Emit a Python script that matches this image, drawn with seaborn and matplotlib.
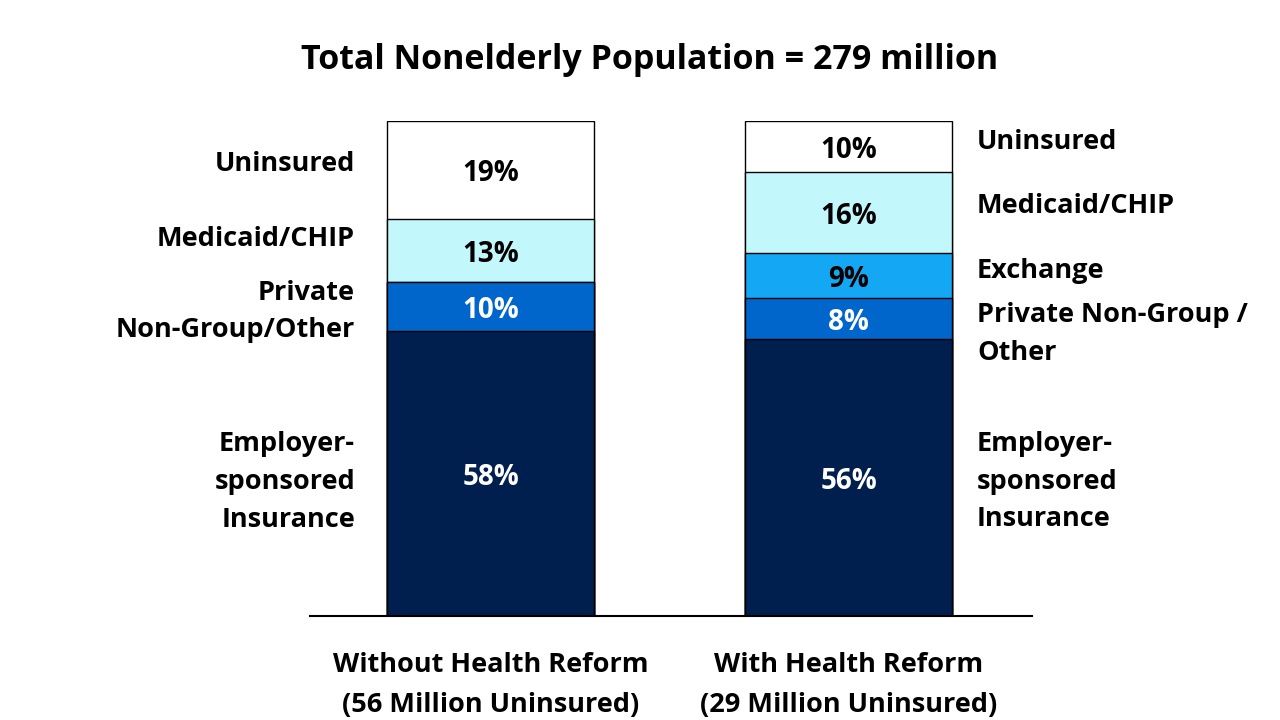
import numpy as np
import pandas as pd
import matplotlib
matplotlib.use('Agg')
import matplotlib.pyplot as plt
import seaborn as sns

sns.set_theme(style='white')
plt.rcParams['font.family'] = ['Open Sans', 'DejaVu Sans']
plt.rcParams['text.color'] = 'black'
plt.rcParams['xtick.color'] = 'black'

# Datos (porcentajes)
scenarios = ['Without Health Reform\n(56 Million Uninsured)',
             'With Health Reform\n(29 Million Uninsured)']
categories = ['Employer', 'PrivateNG', 'Exchange', 'Medicaid', 'Uninsured']
without_reform = [57.6, 9.9, 0.0, 12.8, 19.7]
with_reform = [56.0, 8.2, 9.1, 16.4, 10.3]
without_labels = ['58%', '10%', '', '13%', '19%']
with_labels = ['56%', '8%', '9%', '16%', '10%']

colors = {'Employer': '#001E4E', 'PrivateNG': '#0066CC', 'Exchange': '#14A8F4',
          'Medicaid': '#C2F8FC', 'Uninsured': '#FFFFFF'}
text_colors = {'Employer': 'white', 'PrivateNG': 'white', 'Exchange': 'black',
               'Medicaid': 'black', 'Uninsured': 'black'}

rows = []
for scen, vals, labs in [(scenarios[0], without_reform, without_labels),
                         (scenarios[1], with_reform, with_labels)]:
    cum = np.cumsum(vals)
    for cat, v, c, lab in zip(categories, vals, cum, labs):
        rows.append({'scenario': scen, 'category': cat, 'value': v,
                     'cum': c, 'mid': c - v / 2, 'label': lab})
df = pd.DataFrame(rows)

fig = plt.figure(figsize=(12.8, 7.2), dpi=100)
ax = fig.add_axes([310 / 1280, 104 / 720, 722 / 1280, 495 / 720])

# barras apiladas: se dibujan los acumulados de arriba hacia abajo
for cat in categories[::-1]:
    sub = df[df['category'] == cat]
    sns.barplot(data=sub, x='scenario', y='cum', color=colors[cat],
                edgecolor='black', linewidth=1.0, width=0.579,
                saturation=1, ax=ax, order=scenarios)

for i, scen in enumerate(scenarios):
    sub = df[df['scenario'] == scen]
    for _, r in sub.iterrows():
        if r['label']:
            ax.annotate(r['label'], (i, r['mid']), xytext=(0, -3),
                        textcoords='offset points', ha='center', va='center',
                        fontsize=20, fontweight='bold',
                        color=text_colors[r['category']])

# etiquetas de categoría
left_labels = [('Uninsured', 91.4), ('Medicaid/CHIP', 76.2),
               ('Private\nNon-Group/Other', 61.5),
               ('Employer-\nsponsored\nInsurance', 27.1)]
right_labels = [('Uninsured', 95.8), ('Medicaid/CHIP', 82.8), ('Exchange', 69.7),
                ('Private Non-Group /\nOther', 57.0),
                ('Employer-\nsponsored\nInsurance', 27.1)]
for txt, y in left_labels:
    ax.text(-0.380, y, txt, ha='right', va='center', fontsize=19.5,
            fontweight='bold', linespacing=1.59)
for txt, y in right_labels:
    ax.text(1.359, y, txt, ha='left', va='center', fontsize=19.5,
            fontweight='bold', linespacing=1.57)

ax.set_xlim(-0.506, 1.513)
ax.set_ylim(0, 100)
ax.set_xlabel('')
ax.set_ylabel('')
ax.set_yticks([])
ax.tick_params(axis='x', length=0, pad=26)
for lab in ax.get_xticklabels():
    lab.set_fontsize(19.5)
    lab.set_fontweight('bold')
    lab.set_linespacing(1.7)
for s in ['top', 'right', 'left']:
    ax.spines[s].set_visible(False)
ax.spines['bottom'].set_color('black')
ax.spines['bottom'].set_linewidth(1.5)

fig.text(650 / 1280, 1 - 60 / 720, 'Total Nonelderly Population = 279 million',
         ha='center', va='center', fontsize=24.5, fontweight='bold')

fig.savefig('out.png', dpi=100, facecolor='white')
plt.close(fig)
